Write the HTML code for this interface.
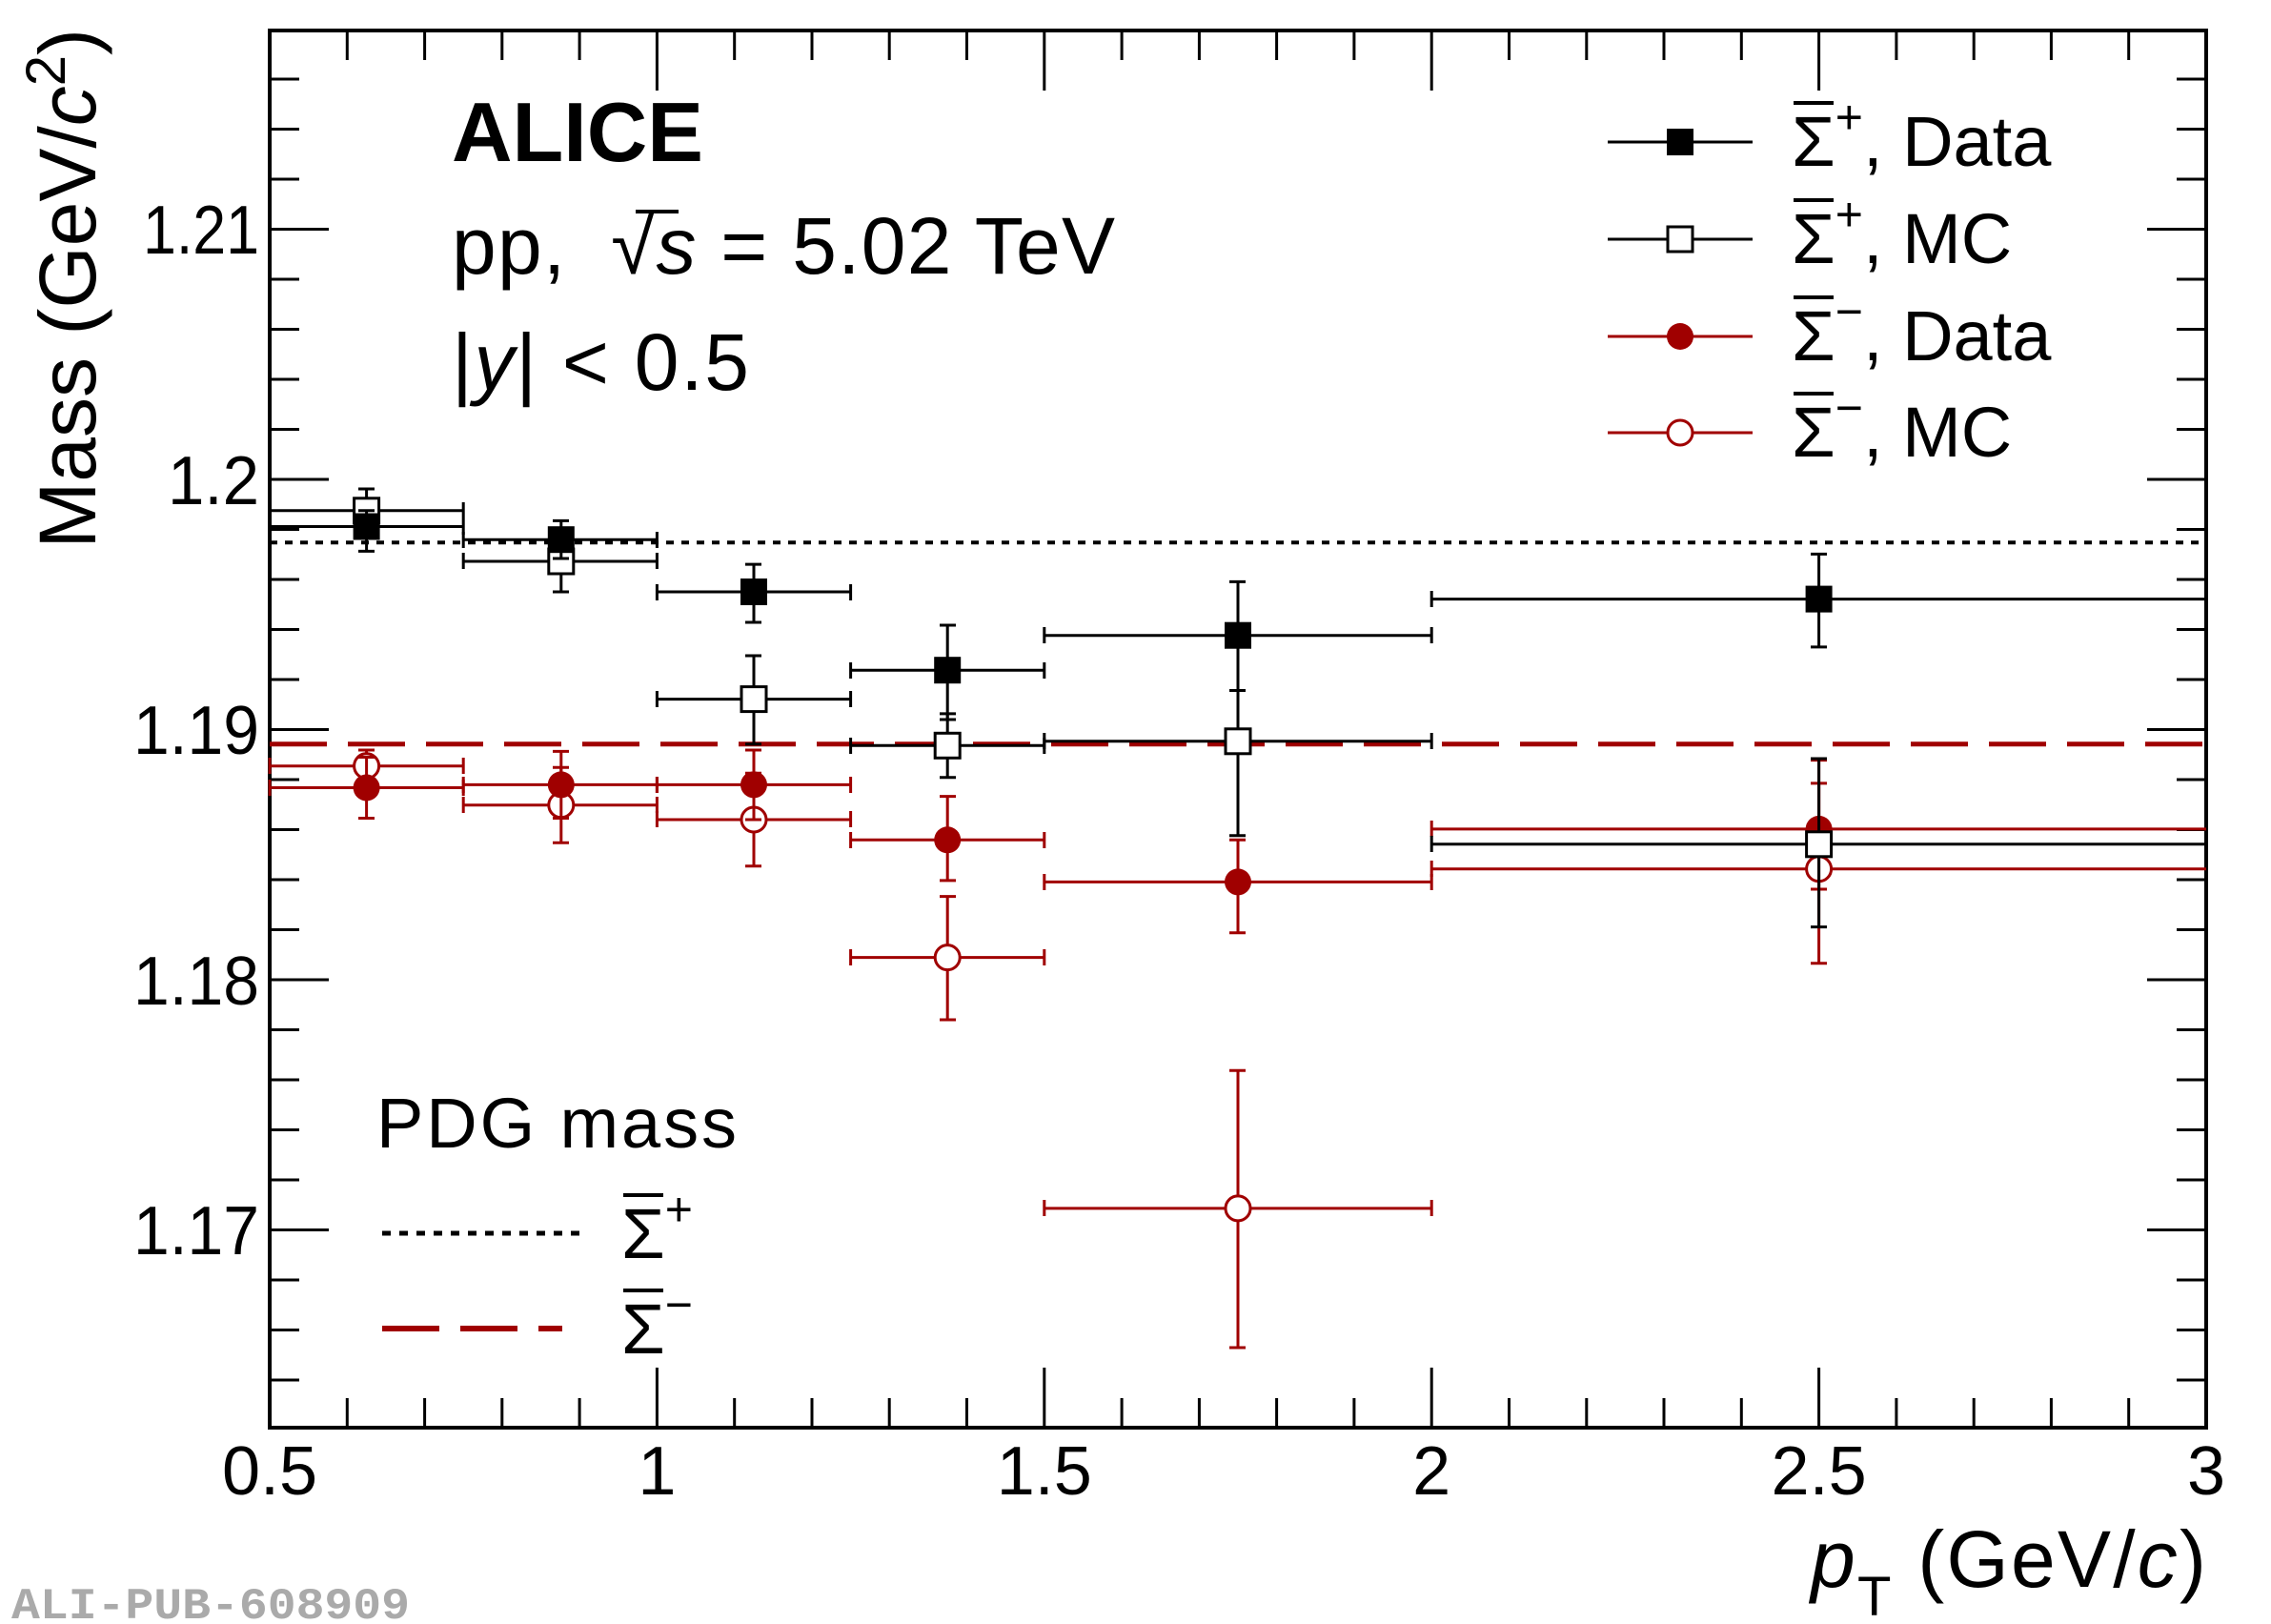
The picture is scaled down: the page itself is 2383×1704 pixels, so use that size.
<!DOCTYPE html>
<html><head><meta charset="utf-8"><style>
html,body{margin:0;padding:0;background:#fff;}
svg{display:block;font-family:"Liberation Sans",sans-serif;}
</style></head><body>
<svg width="2383" height="1704" viewBox="0 0 2383 1704" xmlns="http://www.w3.org/2000/svg">
<rect width="2383" height="1704" fill="#fff"/>
<g stroke="#000" stroke-width="3" fill="none">
<path d="M283,1498v-63M364.3,1498v-31M445.6,1498v-31M526.8,1498v-31M608.1,1498v-31M689.4,1498v-63M770.7,1498v-31M852,1498v-31M933.2,1498v-31M1014.5,1498v-31M1095.8,1498v-63M1177.1,1498v-31M1258.4,1498v-31M1339.6,1498v-31M1420.9,1498v-31M1502.2,1498v-63M1583.5,1498v-31M1664.8,1498v-31M1746,1498v-31M1827.3,1498v-31M1908.6,1498v-63M1989.9,1498v-31M2071.2,1498v-31M2152.4,1498v-31M2233.7,1498v-31"/>
<path d="M364.3,32v31M445.6,32v31M526.8,32v31M608.1,32v31M689.4,32v63M770.7,32v31M852,32v31M933.2,32v31M1014.5,32v31M1095.8,32v63M1177.1,32v31M1258.4,32v31M1339.6,32v31M1420.9,32v31M1502.2,32v63M1583.5,32v31M1664.8,32v31M1746,32v31M1827.3,32v31M1908.6,32v63M1989.9,32v31M2071.2,32v31M2152.4,32v31M2233.7,32v31"/>
<path d="M283,83h31M283,135.5h31M283,188h31M283,240.5h62M283,293h31M283,345.5h31M283,398h31M283,450.5h31M283,503h62M283,555.5h31M283,608h31M283,660.5h31M283,713h31M283,765.5h62M283,818h31M283,870.5h31M283,923h31M283,975.5h31M283,1028h62M283,1080.5h31M283,1133h31M283,1185.5h31M283,1238h31M283,1290.5h62M283,1343h31M283,1395.5h31M283,1448h31"/>
<path d="M2315,83h-31M2315,135.5h-31M2315,188h-31M2315,240.5h-62M2315,293h-31M2315,345.5h-31M2315,398h-31M2315,450.5h-31M2315,503h-62M2315,555.5h-31M2315,608h-31M2315,660.5h-31M2315,713h-31M2315,765.5h-62M2315,818h-31M2315,870.5h-31M2315,923h-31M2315,975.5h-31M2315,1028h-62M2315,1080.5h-31M2315,1133h-31M2315,1185.5h-31M2315,1238h-31M2315,1290.5h-62M2315,1343h-31M2315,1395.5h-31M2315,1448h-31"/>
</g>
<rect x="283" y="32" width="2032" height="1466" fill="none" stroke="#000" stroke-width="4"/>
<g font-size="72" fill="#000">
<g text-anchor="middle">
<text x="283" y="1568">0.5</text><text x="689.4" y="1568">1</text><text x="1095.8" y="1568">1.5</text><text x="1502.2" y="1568">2</text><text x="1908.6" y="1568">2.5</text><text x="2315" y="1568">3</text>
</g>
<text x="150" y="266" textLength="122" lengthAdjust="spacingAndGlyphs">1.21</text>
<text x="176" y="529" textLength="96" lengthAdjust="spacingAndGlyphs">1.2</text>
<text x="140" y="791" textLength="132" lengthAdjust="spacingAndGlyphs">1.19</text>
<text x="140" y="1054" textLength="132" lengthAdjust="spacingAndGlyphs">1.18</text>
<text x="140" y="1316" textLength="132" lengthAdjust="spacingAndGlyphs">1.17</text>
</g>
<text transform="translate(100,30) rotate(-90)" text-anchor="end" font-size="84">Mass (GeV/<tspan font-style="italic">c</tspan><tspan font-size="58" dy="-32">2</tspan><tspan dy="32">)</tspan></text>
<text x="1900" y="1665" font-size="84" textLength="415" lengthAdjust="spacing"><tspan font-style="italic">p</tspan><tspan font-size="58" dy="30">T</tspan><tspan dy="-30"> (GeV/</tspan><tspan font-style="italic">c</tspan>)</text>
<text x="474" y="169" font-size="88" font-weight="bold">ALICE</text>
<text x="474" y="287" font-size="84" textLength="696" lengthAdjust="spacing">pp, <tspan dx="22">√</tspan><tspan font-style="italic">s</tspan> = 5.02 TeV</text>
<line x1="667" y1="222" x2="712" y2="222" stroke="#000" stroke-width="4"/>
<text x="474" y="409" font-size="84" textLength="312" lengthAdjust="spacing">|<tspan font-style="italic">y</tspan>| &lt; 0.5</text>
<line x1="283" y1="569.3" x2="2315" y2="569.3" stroke="#000" stroke-width="4" stroke-dasharray="8,8"/>
<line x1="283" y1="780.8" x2="2315" y2="780.8" stroke="#a00000" stroke-width="5" stroke-dasharray="60,22"/>
<g stroke="#a00000" stroke-width="3" fill="none">
<path d="M283,803.7H486.2M384.6,787V822M283,795v17M486.2,795v17M376,787h17M376,822h17"/>
<path d="M486.2,844.8H689.4M588.8,805.2V884.3M486.2,836v17M689.4,836v17M580,805.2h17M580,884.3h17"/>
<path d="M689.4,860H892.6M791,811.3V908.7M689.4,851v17M892.6,851v17M782,811.3h17M782,908.7h17"/>
<path d="M892.6,1004.6H1095.8M994.2,940.6V1070M892.6,996v17M1095.8,996v17M986,940.6h17M986,1070h17"/>
<path d="M1095.8,1267.9H1502.2M1299,1123.3V1414M1095.8,1259v17M1502.2,1259v17M1290,1123.3h17M1290,1414h17"/>
<path d="M1502.2,911.7H2315M1908.6,821.9V1010.7M1502.2,903v17M1900,821.9h17M1900,1010.7h17"/>
</g>
<g stroke="#a00000" stroke-width="3" fill="#fff">
<circle cx="384.6" cy="803.7" r="13"/><circle cx="588.8" cy="844.8" r="13"/><circle cx="791" cy="860" r="13"/><circle cx="994.2" cy="1004.6" r="13"/><circle cx="1299" cy="1267.9" r="13"/><circle cx="1908.6" cy="911.7" r="13"/>
</g>
<g stroke="#a00000" stroke-width="3" fill="none">
<path d="M283,826.5H486.2M384.6,794.5V858.5M283,818v17M486.2,818v17M376,794.5h17M376,858.5h17"/>
<path d="M486.2,823.4H689.4M588.8,788.4V858.5M486.2,815v17M689.4,815v17M580,788.4h17M580,858.5h17"/>
<path d="M689.4,823.4H892.6M791,787V860M689.4,815v17M892.6,815v17M782,787h17M782,860h17"/>
<path d="M892.6,881.3H1095.8M994.2,835.6V923.9M892.6,873v17M1095.8,873v17M986,835.6h17M986,923.9h17"/>
<path d="M1095.8,925.4H1502.2M1299,881.3V978.7M1095.8,917v17M1502.2,917v17M1290,881.3h17M1290,978.7h17"/>
<path d="M1502.2,869.9H2315M1908.6,797.6V933M1502.2,861v17M1900,797.6h17M1900,933h17"/>
</g>
<g fill="#a00000">
<circle cx="384.6" cy="826.5" r="14"/><circle cx="588.8" cy="823.4" r="14"/><circle cx="791" cy="823.4" r="14"/><circle cx="994.2" cy="881.3" r="14"/><circle cx="1299" cy="925.4" r="14"/><circle cx="1908.6" cy="869.9" r="14"/>
</g>
<g stroke="#000" stroke-width="3" fill="none">
<path d="M283,535.8H486.2M384.6,513V558.6M283,527v17M486.2,527v17M376,513h17M376,558.6h17"/>
<path d="M486.2,589H689.4M588.8,566.2V621M486.2,580v17M689.4,580v17M580,566.2h17M580,621h17"/>
<path d="M689.4,733.6H892.6M791,688V780.8M689.4,725v17M892.6,725v17M782,688h17M782,780.8h17"/>
<path d="M892.6,782.3H1095.8M994.2,748.9V815.8M892.6,774v17M1095.8,774v17M986,748.9h17M986,815.8h17"/>
<path d="M1095.8,777.8H1502.2M1299,678.9V876.7M1095.8,769v17M1502.2,769v17M1290,678.9h17M1290,876.7h17"/>
<path d="M1502.2,885.8H2315M1908.6,796V972.6M1502.2,877v17M1900,796h17M1900,972.6h17"/>
</g>
<g stroke="#000" stroke-width="3" fill="#fff">
<rect x="371.6" y="522.8" width="26" height="26"/><rect x="575.8" y="576" width="26" height="26"/><rect x="778" y="720.6" width="26" height="26"/><rect x="981.2" y="769.3" width="26" height="26"/><rect x="1286" y="764.8" width="26" height="26"/><rect x="1895.6" y="872.8" width="26" height="26"/>
</g>
<g stroke="#000" stroke-width="3" fill="none">
<path d="M283,552.5H486.2M384.6,535.8V578.4M283,544v17M486.2,544v17M376,535.8h17M376,578.4h17"/>
<path d="M486.2,566.2H689.4M588.8,546.4V586M486.2,558v17M689.4,558v17M580,546.4h17M580,586h17"/>
<path d="M689.4,621H892.6M791,592.1V653M689.4,613v17M892.6,613v17M782,592.1h17M782,653h17"/>
<path d="M892.6,703.2H1095.8M994.2,656V755M892.6,695v17M1095.8,695v17M986,656h17M986,755h17"/>
<path d="M1095.8,666.7H1502.2M1299,610.4V724.5M1095.8,658v17M1502.2,658v17M1290,610.4h17M1290,724.5h17"/>
<path d="M1502.2,628.6H2315M1908.6,581.4V678.9M1502.2,620v17M1900,581.4h17M1900,678.9h17"/>
</g>
<g fill="#000">
<rect x="370.6" y="538.5" width="28" height="28"/><rect x="574.8" y="552.2" width="28" height="28"/><rect x="777" y="607" width="28" height="28"/><rect x="980.2" y="689.2" width="28" height="28"/><rect x="1285" y="652.7" width="28" height="28"/><rect x="1894.6" y="614.6" width="28" height="28"/>
</g>
<g stroke-width="3">
<line x1="1687" y1="149" x2="1839" y2="149" stroke="#000"/>
<rect x="1749" y="135" width="28" height="28" fill="#000"/>
<line x1="1687" y1="251" x2="1839" y2="251" stroke="#000"/>
<rect x="1750" y="238" width="26" height="26" fill="#fff" stroke="#000"/>
<line x1="1687" y1="353" x2="1839" y2="353" stroke="#a00000"/>
<circle cx="1763" cy="353" r="14" fill="#a00000"/>
<line x1="1687" y1="454" x2="1839" y2="454" stroke="#a00000"/>
<circle cx="1763" cy="454" r="13" fill="#fff" stroke="#a00000"/>
</g>
<g font-size="74" fill="#000">
<text x="1880" y="174">Σ<tspan font-size="50" dy="-34">+</tspan><tspan dy="34">, Data</tspan></text>
<text x="1880" y="276">Σ<tspan font-size="50" dy="-34">+</tspan><tspan dy="34">, MC</tspan></text>
<text x="1880" y="378">Σ<tspan font-size="50" dy="-34">−</tspan><tspan dy="34">, Data</tspan></text>
<text x="1880" y="479">Σ<tspan font-size="50" dy="-34">−</tspan><tspan dy="34">, MC</tspan></text>
</g>
<g stroke="#000" stroke-width="4">
<line x1="1882" y1="108" x2="1924" y2="108"/><line x1="1882" y1="210" x2="1924" y2="210"/><line x1="1882" y1="312" x2="1924" y2="312"/><line x1="1882" y1="413" x2="1924" y2="413"/>
</g>
<text x="395" y="1204" font-size="74" textLength="378" lengthAdjust="spacing">PDG mass</text>
<line x1="401" y1="1294" x2="608" y2="1294" stroke="#000" stroke-width="5" stroke-dasharray="9,9"/>
<line x1="401" y1="1394" x2="590" y2="1394" stroke="#a00000" stroke-width="6" stroke-dasharray="60,22"/>
<g font-size="74">
<text x="652" y="1320">Σ<tspan font-size="50" dy="-34">+</tspan></text>
<text x="652" y="1420">Σ<tspan font-size="50" dy="-34">−</tspan></text>
</g>
<g stroke="#000" stroke-width="4">
<line x1="654" y1="1254" x2="696" y2="1254"/><line x1="654" y1="1354" x2="696" y2="1354"/>
</g>
<text x="12" y="1698" font-size="46" font-family="Liberation Mono, monospace" font-weight="bold" fill="#aaa" textLength="418" lengthAdjust="spacingAndGlyphs">ALI-PUB-608909</text>
</svg>
</body></html>
